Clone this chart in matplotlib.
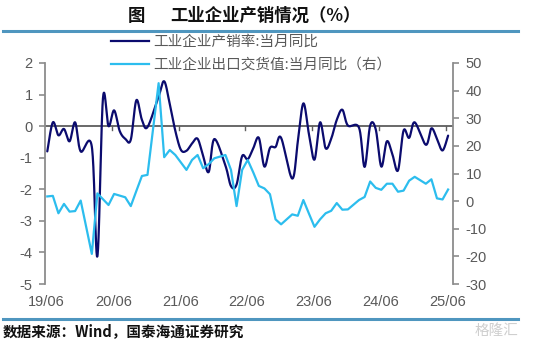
import numpy as np
import pandas as pd
import matplotlib
matplotlib.use('Agg')
import matplotlib.pyplot as plt
from matplotlib.lines import Line2D
import matplotlib.transforms as mtransforms

plt.rcParams['font.family'] = ['Liberation Sans', 'Noto Sans CJK SC', 'DejaVu Sans']

# ---------------- data ----------------
months = pd.period_range('2019-06', '2025-06', freq='M').strftime('%Y-%m').tolist()
nan = np.nan
# 工业企业产销率:当月同比 (left axis, pct points)
ratio_yoy = [-0.80, 0.12, -0.29, -0.09, -0.48, 0.12, -0.80, nan, -0.65, -4.12,
             0.88, 0.00, 0.50, -0.15, -0.40, -0.43, 0.82, 0.20, -0.03, nan,
             0.94, 1.42, 0.70, -0.15, -0.75, -0.78, -0.55, -0.40, -0.95, -1.45,
             -0.41, nan, -1.25, -1.90, -1.85, -0.95, -1.05, -0.70, -0.37, -1.28,
             -0.69, -0.66, -0.37, nan, -1.66, -0.50, 0.72, -0.25, -1.06, 0.12,
             -0.70, -0.40, 0.20, 0.52, 0.02, nan, -0.05, -1.29, 0.02, -0.10,
             -1.28, -0.48, -0.90, -1.40, -0.14, -0.37, 0.12, nan, -0.59, -0.07,
             -0.40, -0.77, -0.30]
# 工业企业出口交货值:当月同比 (right axis, %)
export_yoy = [1.7, 1.9, -4.4, -1.0, -3.8, -3.6, 0.2, nan, -19.1, 2.8,
              0.7, -1.4, 2.6, 2.0, 1.4, -1.8, 3.7, 9.1, 9.5, nan,
              42.7, 15.9, 18.5, 16.7, 14.0, 11.3, 14.9, 16.7, 11.9, 13.4,
              15.5, nan, 16.7, 11.3, -1.8, 11.3, 14.9, 10.4, 5.5, 4.6,
              2.5, -6.6, -8.4, nan, -4.8, -5.3, 0.4, -4.5, -9.3, -6.6,
              -4.4, -3.5, -0.7, -3.1, -3.0, nan, 0.4, 1.5, 7.1, 4.8,
              4.1, 6.3, 6.3, 3.4, 3.8, 7.4, 8.8, nan, 6.3, 7.9,
              1.0, 0.6, 4.2]
xtick_labels = ['19/06', '20/06', '21/06', '22/06', '23/06', '24/06', '25/06']
left_ticks = [-5, -4, -3, -2, -1, 0, 1, 2]
right_ticks = [-30, -20, -10, 0, 10, 20, 30, 40, 50]
label_ratio = '工业企业产销率:当月同比'
label_export = '工业企业出口交货值:当月同比（右）'
title_fig = '图'
title_text = '工业企业产销情况（%）'
source_text = '数据来源：Wind，国泰海通证券研究'

DARK = '#0b0b6e'
LIGHT = '#2cbdee'
GRAY = '#595959'
SPINE = '#8c8c8c'
BLUE_RULE = '#4f96bf'
CJK = ['Noto Sans CJK SC', 'DejaVu Sans']


def smooth(xs, ys, n=24):
    """Excel-like smoothed line (Catmull-Rom Bezier) through the points."""
    P = np.column_stack([xs, ys])
    E = np.vstack([P[0], P, P[-1]])
    t = np.linspace(0, 1, n, endpoint=False)[:, None]
    out = []
    for i in range(len(P) - 1):
        p0, p1, p2, p3 = E[i], E[i + 1], E[i + 2], E[i + 3]
        c1 = p1 + (p2 - p0) / 6.0
        c2 = p2 - (p3 - p1) / 6.0
        out.append((1 - t) ** 3 * p1 + 3 * (1 - t) ** 2 * t * c1
                   + 3 * (1 - t) * t ** 2 * c2 + t ** 3 * p2)
    out.append(P[-1:])
    return np.vstack(out)


# ---------------- figure ----------------
W, H = 535, 348
fig = plt.figure(figsize=(W / 100, H / 100), dpi=100)
ax = fig.add_axes([45 / W, 1 - 284 / H, 408 / W, 221 / H])
ax2 = ax.twinx()

idx = np.arange(len(months)) + 0.41
r = np.array(ratio_yoy, dtype=float)
e = np.array(export_yoy, dtype=float)
mr = ~np.isnan(r)
me = ~np.isnan(e)

curve = smooth(idx[mr], r[mr])
ax.plot(curve[:, 0], curve[:, 1], color=DARK, lw=1.6, solid_capstyle='round', zorder=3)
ax2.plot(idx[me], e[me], color=LIGHT, lw=1.6, solid_joinstyle='round', zorder=3)

ax.set_xlim(0, 73.29)
ax.set_ylim(-5, 2)
ax2.set_ylim(-30, 50)
ax.set_yticks(left_ticks)
ax.set_yticklabels([str(v) for v in left_ticks])
ax2.set_yticks(right_ticks)
ax2.set_yticklabels([str(v) for v in right_ticks])

for a in (ax, ax2):
    for s in ('top', 'bottom'):
        a.spines[s].set_visible(False)
    a.set_facecolor('none')
ax.spines['right'].set_visible(False)
ax2.spines['left'].set_visible(False)
ax.spines['left'].set_color(SPINE)
ax.spines['left'].set_linewidth(1.3)
ax2.spines['right'].set_color(SPINE)
ax2.spines['right'].set_linewidth(1.3)

ax.tick_params(axis='y', direction='out', length=4, width=1.2, color=SPINE,
               labelsize=10.5, labelcolor=GRAY, pad=5)
ax2.tick_params(axis='y', direction='out', length=4, width=1.2, color=SPINE,
                labelsize=10.5, labelcolor=GRAY, pad=5)

# zero line acting as x axis, with downward ticks
ax.axhline(0, color='#404040', lw=1.1, zorder=2)
xt = [12 * k for k in range(len(xtick_labels))]
ax.set_xticks(xt)
ax.set_xticklabels([])
ax.tick_params(axis='x', length=0)
trans_tick = mtransforms.blended_transform_factory(ax.transData, ax.transData)
for x in xt[1:]:
    ax.plot([x, x], [0, -0.12], color='#606060', lw=1, zorder=2, clip_on=False)

trans = mtransforms.blended_transform_factory(ax.transData, ax.transAxes)
for x, lab in zip(xt, xtick_labels):
    ax.text(x + 0.3, -0.083, lab, transform=trans, ha='center', va='center',
            fontsize=10.5, color=GRAY)

# legend
handles = [Line2D([], [], color=DARK, lw=1.6), Line2D([], [], color=LIGHT, lw=1.6)]
fig.legend(handles, [label_ratio, label_export], loc='upper left',
           bbox_to_anchor=(111 / W, 1 - 35 / H), frameon=False, borderpad=0,
           borderaxespad=0, handlelength=2.6, handletextpad=0.3, labelspacing=0.62,
           prop={'family': CJK, 'size': 10.5}, labelcolor=GRAY)

# title and rules
fig.text(128 / W, 1 - 16 / H, title_fig, family=CJK, fontsize=12.5, weight='bold',
         ha='left', va='center', color='#111111')
fig.text(170 / W, 1 - 16 / H, title_text, family=CJK, fontsize=12.5, weight='bold',
         ha='left', va='center', color='#111111')
fig.add_artist(Line2D([3 / W, 518 / W], [1 - 30.5 / H] * 2, color=BLUE_RULE, lw=2.2))
fig.add_artist(Line2D([3 / W, 518 / W], [1 - 318.5 / H] * 2, color=BLUE_RULE, lw=2.2))
fig.text(3 / W, 1 - 331 / H, source_text, family=CJK, fontsize=10.5, weight='bold',
         ha='left', va='center', color='#111111')
fig.text(518 / W, 1 - 331 / H, '格隆汇', family=CJK, fontsize=10.5,
         ha='right', va='center', color='#cfcfcf')

fig.savefig('out.png', dpi=100)
